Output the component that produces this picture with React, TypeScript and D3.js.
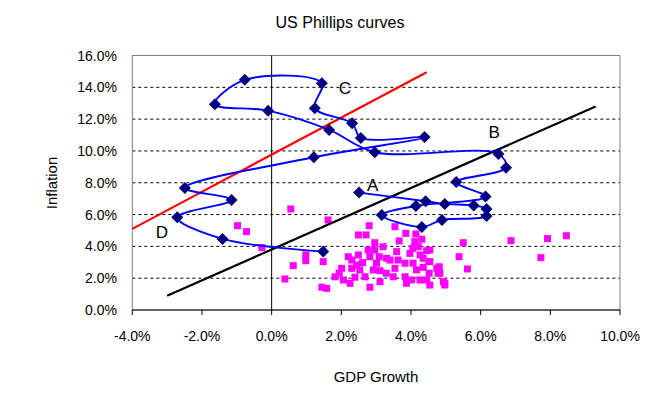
import React from "react";
import * as d3 from "d3";

// blue path, in order (GDP growth %, inflation %)
const pathGdp = [2.51, 4.42, 4.97, 5.8, 6.17, 6.17, 4.89, 4.31, 3.16, 4.14, 6.14, 5.3, 6.73, 6.51, 2.96, 1.65, -0.1, -1.63, -0.77, 1.44, 1.24, 2.31, 2.56, 4.39, 1.21, -2.49, -1.15, -2.71, -1.41, 1.48];
const pathInfl = [7.38, 6.84, 6.67, 6.57, 6.35, 5.91, 5.66, 5.22, 5.97, 6.54, 7.13, 8.04, 8.95, 9.81, 9.92, 11.32, 12.53, 12.94, 14.47, 14.26, 12.69, 11.74, 10.82, 10.87, 9.6, 7.67, 6.92, 5.83, 4.47, 3.67];

// magenta points
const dotGdp = [
  -0.98, -0.72, -0.28, 0.55, 0.98, 0.98, 0.62, 0.38, 1.48, 1.44, 1.58, 1.62,
  2.8, 3.54, 2.49, 2.71, 3.85, 3.66, 4.14, 2.96,
  2.2, 2.3, 2.44, 2.61, 2.01, 1.82, 1.94, 2.25, 2.39, 2.82, 3.11, 2.77, 2.96, 3.09, 3.01, 2.92, 3.11, 3.3, 3.4, 3.54, 3.63, 3.59,
  4.11, 4.31, 4.45, 4.26, 4.06, 4.16, 4.35, 4.51, 4.52, 4.45, 4.26, 4.02, 3.83, 3.87, 4.74, 4.83, 4.97,
  2.53, 2.68, 3.29, 3.49, 3.97, 4.05, 4.21, 4.35, 3.83, 3.2, 2.82, 2.49, 2.3, 2.06,
  5.5, 6.87, 7.92, 8.46, 7.73, 5.38, 5.62, 4.54, 4.54, 4.81, 4.78, 4.93, 4.97, 4.54
];
const dotInfl = [
  5.3, 4.93, 3.92, 6.35, 3.46, 3.1, 2.79, 1.95, 3.04, 1.43, 1.36, 5.66,
  5.3, 5.24, 4.72, 4.72, 4.82, 4.34, 4.78, 4.23,
  3.35, 3.14, 2.83, 2.98, 2.62, 2.09, 2.31, 1.68, 2.06, 1.43, 1.78, 3.77, 3.77, 3.35, 2.94, 2.52, 2.47, 3.25, 3.14, 2.62, 3.14, 3.67,
  4.3, 4.45, 3.73, 3.46, 2.94, 2.52, 2.68, 3.04, 2.31, 1.89, 1.89, 1.89, 2.09, 1.68, 2.62, 2.31, 1.68,
  2.52, 2.09, 2.31, 2.09, 3.56, 3.88, 3.98, 3.25, 2.94, 3.98, 3.35, 3.46, 2.62, 1.89,
  4.23, 4.36, 4.49, 4.67, 3.29, 3.35, 2.58, 3.77, 3.04, 2.72, 2.31, 1.78, 1.57, 1.57
];

// straight lines: [x0, y0, x1, y1]
const redLine = [-4, 5.1, 4.45, 14.95];
const blackLine = [-3.0, 0.9, 9.3, 12.8];

const labelText = ["A", "B", "C", "D"];
const labelGdp = [2.9, 6.39, 2.1, -3.15];
const labelInfl = [7.85, 11.2, 13.96, 4.9];

const xTicks = [-4, -2, 0, 2, 4, 6, 8, 10];
const yTicks = [0, 2, 4, 6, 8, 10, 12, 14, 16];

const W = 652;
const H = 394;
const font = "'Liberation Sans', Arial, sans-serif";

export default function App() {
  const x = d3.scaleLinear().domain([-4, 10]).range([132.3, 620]);
  const y = d3.scaleLinear().domain([0, 16]).range([310, 55.5]);
  const fmt = (v: number) => v.toFixed(1) + "%";

  const pts = pathGdp.map((g, i) => [x(g), y(pathInfl[i])] as [number, number]);
  const line = d3.line().curve(d3.curveCatmullRom.alpha(0.5))(pts) || "";

  const diamond = (cx: number, cy: number) => {
    const r = 6;
    return `M${cx},${cy - r}L${cx + r},${cy}L${cx},${cy + r}L${cx - r},${cy}Z`;
  };

  return (
    <div style={{ position: "absolute", left: 0, top: 0 }}>
      <svg width={W} height={H} style={{ display: "block", background: "#fff" }} fontFamily={font}>
        <text x={340} y={28} textAnchor="middle" fontSize={16}>US Phillips curves</text>

        {/* grid */}
        {yTicks.slice(1, -1).map((t) => (
          <line key={t} x1={x(-4)} x2={x(10)} y1={y(t)} y2={y(t)} stroke="#000" strokeDasharray="3,3" strokeWidth={1} />
        ))}
        <rect x={x(-4)} y={y(16)} width={x(10) - x(-4)} height={y(0) - y(16)} fill="none" stroke="#808080" strokeWidth={1} />
        <line x1={x(0)} x2={x(0)} y1={y(16)} y2={y(0)} stroke="#000" strokeWidth={1} />
        <line x1={x(-4)} x2={x(10)} y1={y(0)} y2={y(0)} stroke="#000" strokeWidth={1} />

        {/* x ticks */}
        {xTicks.map((t) => (
          <g key={t}>
            <line x1={x(t)} x2={x(t)} y1={y(0)} y2={y(0) + 5} stroke="#000" />
            <text x={x(t)} y={y(0) + 31} textAnchor="middle" fontSize={14}>{fmt(t)}</text>
          </g>
        ))}
        {yTicks.map((t) => (
          <text key={t} x={117} y={y(t) + 5} textAnchor="end" fontSize={14}>{fmt(t)}</text>
        ))}

        <text x={376} y={382} textAnchor="middle" fontSize={15}>GDP Growth</text>
        <text transform={`translate(57,183) rotate(-90)`} textAnchor="middle" fontSize={15}>Inflation</text>

        {/* magenta squares */}
        {dotGdp.map((g, i) => (
          <rect key={i} x={x(g) - 3.5} y={y(dotInfl[i]) - 3.5} width={7} height={7} fill="#FF00FF" />
        ))}

        {/* straight lines */}
        <line x1={x(redLine[0])} y1={y(redLine[1])} x2={x(redLine[2])} y2={y(redLine[3])} stroke="#FF0000" strokeWidth={2.2} />
        <line x1={x(blackLine[0])} y1={y(blackLine[1])} x2={x(blackLine[2])} y2={y(blackLine[3])} stroke="#000" strokeWidth={2.2} />

        {/* blue curve */}
        <path d={line} fill="none" stroke="#0000FF" strokeWidth={1.9} />
        {pts.map((p, i) => (
          <path key={i} d={diamond(p[0], p[1])} fill="#000080" />
        ))}

        {labelText.map((l, i) => (
          <text key={l} x={x(labelGdp[i])} y={y(labelInfl[i]) + 6} textAnchor="middle" fontSize={17}>{l}</text>
        ))}
      </svg>
    </div>
  );
}
